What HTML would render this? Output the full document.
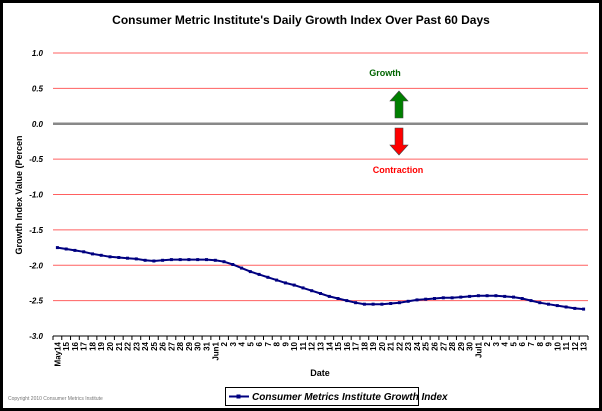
<!DOCTYPE html>
<html><head><style>
body{margin:0;background:#fff}
svg{display:block;font-family:"Liberation Sans",Arial,sans-serif}
</style></head><body>
<svg id="s" width="602" height="411" viewBox="0 0 602 411">
<rect x="1.5" y="1.5" width="599" height="408" fill="#fff" stroke="#000" stroke-width="3"/>
<text x="301" y="24" text-anchor="middle" font-size="12" font-weight="bold">Consumer Metric Institute's Daily Growth Index Over Past 60 Days</text>
<g id="grid"></g>
<text x="385" y="76" font-size="9" font-weight="bold" fill="#006400" text-anchor="middle">Growth</text>
<text x="398" y="173" font-size="9" font-weight="bold" fill="#ff0000" text-anchor="middle">Contraction</text>
<polygon points="399,91 408,101 403,101 403,118 395,118 395,101 390,101" fill="#008000" stroke="#444" stroke-width="0.6"/>
<polygon points="399,155 408,145 403,145 403,128 395,128 395,145 390,145" fill="#ff0000" stroke="#444" stroke-width="0.6"/>
<text transform="translate(22,195) rotate(-90)" font-size="9" font-weight="bold" text-anchor="middle">Growth Index Value (Percen</text>
<text x="320" y="376" font-size="9" font-weight="bold" text-anchor="middle">Date</text>
<text x="8" y="400" font-size="5" fill="#777">Copyright 2010 Consumer Metrics Institute</text>
<rect x="225.5" y="387.5" width="193" height="18" fill="#fff" stroke="#000"/>
<line x1="229" y1="396.5" x2="249" y2="396.5" stroke="#000080" stroke-width="2"/>
<rect x="236.5" y="394.5" width="4" height="4" fill="#000080"/>
<text x="252" y="400" font-size="10" font-weight="bold" font-style="italic">Consumer Metrics Institute Growth Index</text>
</svg>
<script>
var s=document.getElementById('grid'),h='';
var L=53,R=588,T=53,B=336;
function y(v){return T+(1-v)/4*(B-T);}
for(var v=1;v>=-3.001;v-=0.5){var yy=y(v);
 if(Math.abs(v)<0.01)h+='<line x1="'+L+'" x2="'+R+'" y1="'+yy+'" y2="'+yy+'" stroke="#888" stroke-width="2.5"/>';
 else if(v>-2.99)h+='<line x1="'+L+'" x2="'+R+'" y1="'+yy+'" y2="'+yy+'" stroke="#ff6060" stroke-width="1"/>';
 h+='<text x="43" y="'+(yy+3)+'" font-size="8" font-weight="bold" font-style="italic" text-anchor="end">'+(v.toFixed(1))+'</text>';}
h+='<line x1="'+L+'" x2="'+R+'" y1="'+B+'" y2="'+B+'" stroke="#000"/>';
var labs=['May14'];for(var d=15;d<=31;d++)labs.push(''+d);labs.push('Jun1');for(d=2;d<=30;d++)labs.push(''+d);labs.push('Jul1');for(d=2;d<=13;d++)labs.push(''+d);
var vals=[-1.75,-1.77,-1.79,-1.81,-1.84,-1.86,-1.88,-1.89,-1.90,-1.91,-1.93,-1.94,-1.93,-1.92,-1.92,-1.92,-1.92,-1.92,-1.93,-1.95,-1.99,-2.04,-2.09,-2.13,-2.17,-2.21,-2.25,-2.28,-2.32,-2.36,-2.40,-2.44,-2.47,-2.50,-2.53,-2.55,-2.55,-2.55,-2.54,-2.53,-2.51,-2.49,-2.48,-2.47,-2.46,-2.46,-2.45,-2.44,-2.43,-2.43,-2.43,-2.44,-2.45,-2.47,-2.50,-2.53,-2.55,-2.57,-2.59,-2.61,-2.62];
var n=labs.length,w=(R-L)/n,pts=[];
for(var i=0;i<=n;i++){var xx=L+i*w;h+='<line x1="'+xx+'" x2="'+xx+'" y1="'+B+'" y2="'+(B+4)+'" stroke="#000"/>';}
for(i=0;i<n;i++){var cx=L+(i+0.5)*w;pts.push(cx.toFixed(1)+','+y(vals[i]).toFixed(1));
 h+='<text transform="translate('+(cx+3)+','+(B+6)+') rotate(-90)" font-size="8" font-weight="bold" text-anchor="end">'+labs[i]+'</text>';}
h+='<polyline points="'+pts.join(' ')+'" fill="none" stroke="#000080" stroke-width="2"/>';
for(i=0;i<n;i++){var p=pts[i].split(',');h+='<rect x="'+(p[0]-1.5)+'" y="'+(p[1]-1.5)+'" width="3" height="3" fill="#000080"/>';}
s.innerHTML=h;
</script>
</body></html>
